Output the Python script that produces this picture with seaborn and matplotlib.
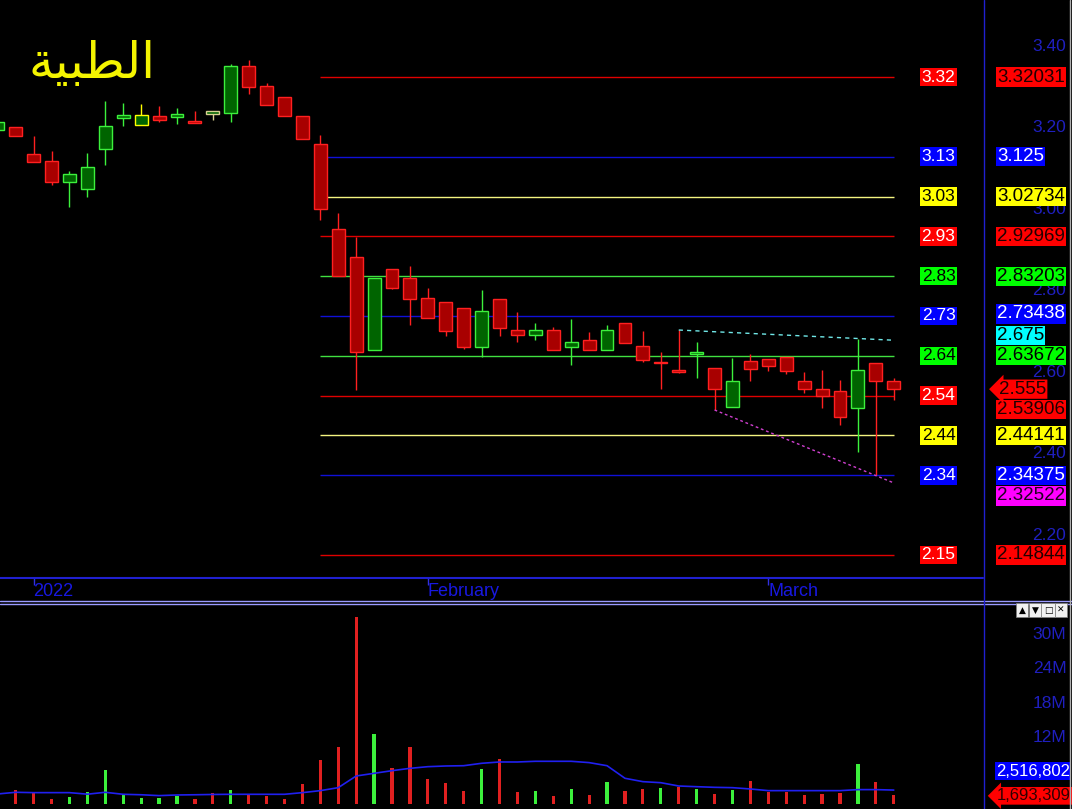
import numpy as np
import pandas as pd
import matplotlib
matplotlib.use("Agg")
import matplotlib.pyplot as plt
from matplotlib.lines import Line2D
import seaborn as sns

# ---------------------------------------------------------------
# data (price in EGP, volume in millions)
# ---------------------------------------------------------------
title_ar = "الطبية"

opens = [3.190, 3.198, 3.132, 3.114, 3.064, 3.046, 3.145, 3.221, 3.203, 3.225,
         3.223, 3.213, 3.230, 3.231, 3.347, 3.298, 3.271, 3.225, 3.155, 2.947,
         2.879, 2.650, 2.849, 2.828, 2.778, 2.769, 2.753, 2.659, 2.776, 2.700,
         2.687, 2.700, 2.659, 2.676, 2.651, 2.717, 2.661, 2.620, 2.600, 2.640,
         2.606, 2.512, 2.623, 2.628, 2.635, 2.575, 2.555, 2.550, 2.510, 2.618,
         2.575]
highs = [3.220, 3.198, 3.176, 3.139, 3.090, 3.134, 3.262, 3.256, 3.254, 3.249,
         3.244, 3.237, 3.237, 3.352, 3.362, 3.305, 3.271, 3.225, 3.178, 2.988,
         2.929, 2.828, 2.849, 2.857, 2.802, 2.769, 2.753, 2.798, 2.776, 2.743,
         2.718, 2.708, 2.727, 2.696, 2.712, 2.717, 2.698, 2.647, 2.700, 2.671,
         2.606, 2.632, 2.642, 2.628, 2.635, 2.598, 2.602, 2.577, 2.677, 2.618,
         2.583]
lows = [3.185, 3.176, 3.113, 3.055, 3.002, 3.027, 3.105, 3.200, 3.203, 3.211,
        3.205, 3.208, 3.214, 3.211, 3.279, 3.252, 3.225, 3.169, 2.970, 2.833,
        2.553, 2.650, 2.800, 2.712, 2.730, 2.686, 2.653, 2.633, 2.686, 2.671,
        2.676, 2.651, 2.614, 2.651, 2.651, 2.669, 2.621, 2.555, 2.594, 2.583,
        2.504, 2.512, 2.575, 2.600, 2.592, 2.545, 2.510, 2.468, 2.402, 2.345,
        2.528]
closes = [3.210, 3.176, 3.113, 3.064, 3.083, 3.100, 3.200, 3.227, 3.226, 3.216,
          3.230, 3.208, 3.237, 3.347, 3.297, 3.252, 3.225, 3.169, 2.997, 2.833,
          2.647, 2.828, 2.804, 2.776, 2.730, 2.698, 2.659, 2.746, 2.706, 2.687,
          2.700, 2.651, 2.671, 2.651, 2.700, 2.669, 2.626, 2.620, 2.600, 2.646,
          2.555, 2.575, 2.604, 2.611, 2.600, 2.555, 2.539, 2.487, 2.601, 2.574,
          2.555]

volume = [2.0, 2.5, 2.1, 1.0, 1.3, 2.1, 6.0, 1.7, 1.1, 1.1,
          1.5, 1.0, 2.0, 2.5, 1.8, 1.4, 1.0, 3.5, 7.8, 10.1,
          32.8, 12.4, 6.3, 10.1, 4.5, 3.8, 2.4, 6.2, 8.0, 2.2,
          2.4, 1.4, 2.7, 1.7, 4.0, 2.4, 2.7, 2.8, 3.1, 2.7,
          1.8, 2.5, 4.1, 2.1, 2.1, 1.7, 1.8, 2.0, 7.1, 4.0,
          1.69]
volume_up = [1, 0, 0, 0, 1, 1, 1, 1, 1, 1,
             1, 0, 0, 1, 0, 0, 0, 0, 0, 0,
             0, 1, 0, 0, 0, 0, 0, 1, 0, 0,
             1, 0, 1, 0, 1, 0, 0, 1, 0, 1,
             0, 1, 0, 0, 0, 0, 0, 0, 1, 0,
             0]
volume_ma = [1.84, 2.13, 2.07, 2.07, 2.07, 1.80, 2.13, 1.78, 1.70, 1.55,
             1.66, 1.70, 1.75, 1.78, 1.78, 1.78, 1.78, 2.07, 2.42, 2.94,
             4.98, 5.45, 5.91, 6.32, 6.61, 6.73, 6.78, 7.20, 7.43, 7.43,
             7.55, 7.55, 7.55, 7.32, 6.78, 4.58, 3.99, 3.81, 3.23, 3.11,
             3.00, 2.94, 2.71, 2.42, 2.42, 2.42, 2.42, 2.42, 2.60, 2.60,
             2.52]

levels = [3.32031, 3.125, 3.02734, 2.92969, 2.83203, 2.73438,
          2.63672, 2.53906, 2.44141, 2.34375, 2.14844]
level_short = ["3.32", "3.13", "3.03", "2.93", "2.83", "2.73",
               "2.64", "2.54", "2.44", "2.34", "2.15"]
level_kind = ["red", "blue", "yellow", "red", "green", "blue",
              "green", "red", "yellow", "blue", "red"]

# trendlines (candle index, price)
upper_trend_x = [38, 50]
upper_trend_y = [2.700, 2.675]
lower_trend_x = [40, 50]
lower_trend_y = [2.504, 2.32522]

date_ticks = [2, 24, 43]
date_labels = ["2022", "February", "March"]
price_ticks = [2.2, 2.4, 2.6, 2.8, 3.0, 3.2, 3.4]
vol_ticks = [12, 18, 24, 30]
vol_tick_labels = ["12M", "18M", "24M", "30M"]
last_close_label = "2.555"
last_vol_label = "1,693,309"
last_ma_label = "2,516,802"

df = pd.DataFrame({"open": opens, "high": highs, "low": lows,
                   "close": closes, "volume": volume, "vol_ma": volume_ma})
df["i"] = np.arange(len(df))


def shape_arabic(word):
    # presentation forms: isolated, final, initial, medial
    forms = {
        "ا": ("\uFE8D", "\uFE8E", None, None),
        "ل": ("\uFEDD", "\uFEDE", "\uFEDF", "\uFEE0"),
        "ط": ("\uFEC1", "\uFEC2", "\uFEC3", "\uFEC4"),
        "ب": ("\uFE8F", "\uFE90", "\uFE91", "\uFE92"),
        "ي": ("\uFEF1", "\uFEF2", "\uFEF3", "\uFEF4"),
        "ة": ("\uFE93", "\uFE94", None, None),
    }
    out = []
    for k, ch in enumerate(word):
        f = forms[ch]
        prev_j = k > 0 and forms[word[k - 1]][2] is not None
        next_j = f[2] is not None and k < len(word) - 1
        if prev_j and next_j:
            g = f[3]
        elif prev_j:
            g = f[1]
        elif next_j:
            g = f[2]
        else:
            g = f[0]
        out.append(g)
    return "".join(reversed(out))


#%%
sns.set_theme(style="dark", rc={"axes.facecolor": "black",
                                "figure.facecolor": "black",
                                "axes.grid": False})
plt.rcParams["font.family"] = ["Liberation Sans", "DejaVu Sans"]

W, H = 1072, 809
fig = plt.figure(figsize=(W / 100, H / 100), dpi=100)

XLIM = (0.124, 54.98)
axis_blue = "#1f1fbf"
line_col = {"red": "#e00000", "blue": "#1010d8", "yellow": "#f4f480",
            "green": "#40e040"}
box_col = {"red": "#ff0000", "blue": "#0000ff", "yellow": "#ffff00",
           "green": "#00ff00"}

# ---------------- price pane ----------------
ax = fig.add_axes([0, 1 - 577 / H, 983 / W, 577 / H])
ax.set_facecolor("black")
ax.set_xlim(*XLIM)
ax.set_ylim(2.0945, 3.5091)

up = df["close"] > df["open"]
edge = np.where(up, "#3cf03c", "#ff2020").astype(object)
fill = np.where(up, "#006400", "#a80000")
edge[8] = "#ffff00"
edge[12] = "#d8d090"

ax.vlines(df["i"], df["low"], df["high"], colors=edge, lw=1, zorder=2)
body_lo = np.minimum(df["open"], df["close"])
body_h = (df["close"] - df["open"]).abs()
flat = body_h < 0.003
body_lo = np.where(flat, body_lo - 0.002, body_lo)
body_h = np.where(flat, 0.004, body_h)
ax.bar(df["i"], body_h, bottom=body_lo, width=0.72, color=fill,
       edgecolor=edge, lw=1, zorder=3)

# fib levels
ax.hlines(levels, 18, 50, colors=[line_col[k] for k in level_kind],
          lw=1, zorder=1)
for lv, lab, kind in zip(levels, level_short, level_kind):
    fc = "white" if kind in ("red", "blue") else "black"
    ax.text(52.5, lv, lab, ha="center", va="center", color=fc,
            fontsize=12.5, zorder=5,
            bbox=dict(boxstyle="square,pad=0.1", fc=box_col[kind], ec="none"))

# trendlines
ax.plot(upper_trend_x, upper_trend_y, color="#70e8e8", lw=1,
        dashes=(3, 3), zorder=4)
ax.plot(lower_trend_x, lower_trend_y, color="#d040d0", lw=1,
        dashes=(2, 2), zorder=4)

# axes decoration
for s in ax.spines.values():
    s.set_visible(False)
ax.yaxis.tick_right()
ax.set_yticks(price_ticks, [f"{t:.2f}" for t in price_ticks])
ax.tick_params(axis="y", length=0, pad=60, labelsize=12.5,
               labelcolor=axis_blue, right=True, left=False)
for lab in ax.get_yticklabels():
    lab.set_horizontalalignment("right")
ax.set_xticks(date_ticks, date_labels)
ax.tick_params(axis="x", bottom=True, direction="out", length=6, width=1,
               color="#3030e0", labelcolor="#1818e0", labelsize=13, pad=-2)
for lab in ax.get_xticklabels():
    lab.set_horizontalalignment("left")

# right-hand value boxes: text, value, bg, fg, shift in px
right_boxes = [
    ("3.32031", 3.32031, "#ff0000", "#200000", 0),
    ("3.125", 3.125, "#0000ff", "white", 0),
    ("3.02734", 3.02734, "#ffff00", "black", 0),
    ("2.92969", 2.92969, "#ff0000", "#200000", 0),
    ("2.83203", 2.83203, "#00ff00", "black", 0),
    ("2.73438", 2.73438, "#0000ff", "white", 2),
    ("2.675", upper_trend_y[1], "#00ffff", "black", 5),
    ("2.63672", 2.63672, "#00ff00", "black", 0),
    ("2.53906", 2.53906, "#ff0000", "#200000", -14),
    ("2.44141", 2.44141, "#ffff00", "black", 0),
    ("2.34375", 2.34375, "#0000ff", "white", 0),
    ("2.32522", lower_trend_y[1], "#ff00ff", "#200020", -13),
    ("2.14844", 2.14844, "#ff0000", "#200000", 0),
]
for txt, val, bg, fg, dy in right_boxes:
    ax.annotate(txt, xy=(1, val), xycoords=("axes fraction", "data"),
                xytext=(14, dy), textcoords="offset pixels",
                ha="left", va="center", color=fg, fontsize=13.5, zorder=10,
                annotation_clip=False,
                bbox=dict(boxstyle="square,pad=0.06", fc=bg, ec="none"))
ax.annotate(last_close_label, xy=(1, closes[-1]), xycoords=("axes fraction", "data"),
            xytext=(16, 0), textcoords="offset pixels", ha="left", va="center",
            color="#200000", fontsize=13.5, zorder=11, annotation_clip=False,
            bbox=dict(boxstyle="larrow,pad=0.06", fc="#ff0000", ec="none"))

# ---------------- volume pane ----------------
vax = fig.add_axes([0, 0, 983 / W, 205 / H])
vax.set_facecolor("black")
vax.set_xlim(*XLIM)
vax.set_ylim(-0.79, 35.05)
vcols = ["#3cf03c" if u else "#e02020" for u in volume_up]
vax.bar(df["i"], df["volume"], width=0.18, color=vcols, lw=0, zorder=2)
sns.lineplot(data=df, x="i", y="vol_ma", ax=vax, color="#2020f0", lw=1.2,
             zorder=3)
vax.set_xlabel("")
vax.set_ylabel("")
for s in vax.spines.values():
    s.set_visible(False)
vax.set_xticks([])
vax.yaxis.tick_right()
vax.set_yticks(vol_ticks, vol_tick_labels)
vax.tick_params(axis="y", length=0, pad=60, labelsize=12.5,
                labelcolor=axis_blue, right=True, left=False)
for lab in vax.get_yticklabels():
    lab.set_horizontalalignment("right")

vax.annotate(last_ma_label, xy=(1, volume_ma[-1]), xycoords=("axes fraction", "data"),
             xytext=(13, 19), textcoords="offset pixels", ha="left", va="center",
             color="white", fontsize=12, zorder=10, annotation_clip=False,
             bbox=dict(boxstyle="square,pad=0.08", fc="#0000ff", ec="none"))
vax.annotate(last_vol_label, xy=(1, volume[-1]), xycoords=("axes fraction", "data"),
             xytext=(14, -1), textcoords="offset pixels", ha="left", va="center",
             color="#300000", fontsize=12, zorder=11, annotation_clip=False,
             bbox=dict(boxstyle="larrow,pad=0.08", fc="#ff0000", ec="none"))

# window buttons of the volume pane
for bx, sym in zip([1022, 1035, 1048, 1061], ["▲", "▼", "□", "✕"]):
    fig.text(bx / W, 1 - 610 / H, sym, ha="center", va="center", fontsize=6.5,
             color="black", family=["DejaVu Sans"],
             bbox=dict(boxstyle="square,pad=0.25", fc="#f0f0f0", ec="#808080", lw=0.5))

# frame lines
fig.add_artist(Line2D([0, 983 / W], [1 - 577.5 / H] * 2, color="#2020d0", lw=1.5))
fig.add_artist(Line2D([0, 1], [1 - 600.5 / H] * 2, color="#9a9aff", lw=1))
fig.add_artist(Line2D([0, 1], [1 - 603.5 / H] * 2, color="#9a9aff", lw=1))
fig.add_artist(Line2D([983.5 / W] * 2, [0, 1], color="#2020d0", lw=1))
fig.add_artist(Line2D([1069.5 / W] * 2, [0, 1], color="#b0b0b0", lw=1))

# title
fig.text(28 / W, 1 - 64 / H, shape_arabic(title_ar), ha="left", va="center",
         color="#f4f400", fontsize=36, family=["DejaVu Sans"])

fig.savefig("out.png", dpi=100, facecolor="black")
